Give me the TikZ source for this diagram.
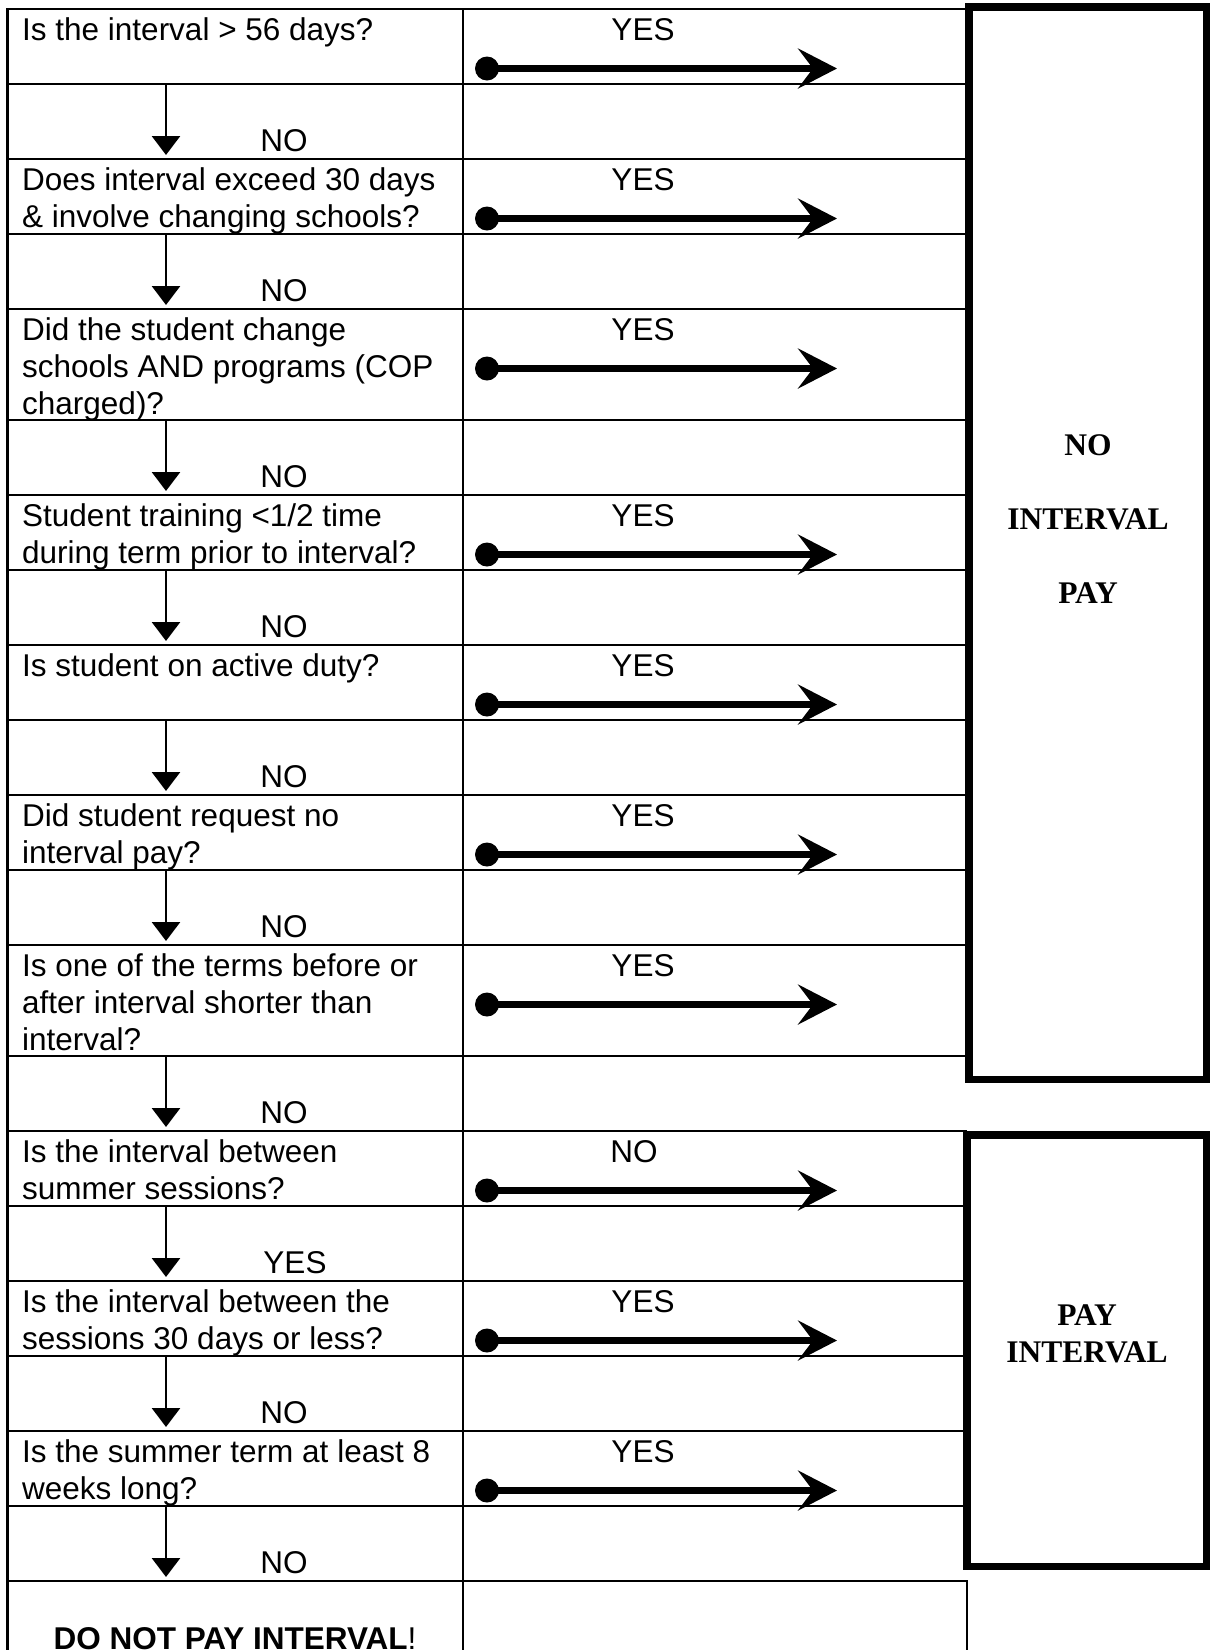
\documentclass[tikz,border=0pt]{standalone}
\usepackage{fontspec}
\setmainfont{Liberation Sans}
\newfontfamily\serifbold{Liberation Serif}
\usetikzlibrary{arrows.meta}
\tikzstyle{rules} = [line width=2.3pt]
\tikzstyle{question} = [anchor=north west, inner sep=0pt, align=left]
\tikzstyle{answer} = [anchor=base, inner sep=0pt]
\tikzstyle{startdot} = [circle, fill, inner sep=0pt, minimum size=24pt]
\tikzstyle{yesline} = [draw, line width=7pt, -{Stealth[length=39pt,width=40pt,inset=15pt]}]
\tikzstyle{noline} = [draw, line width=2.8pt, -{Triangle[length=19pt,width=28pt]}]
\tikzstyle{outcome} = [draw, line width=7.5pt]
\tikzstyle{verdict} = [anchor=north, inner sep=0pt, align=center, font=\serifbold\bfseries\fontsize{31.5}{37}\selectfont]

\begin{document}
\begin{tikzpicture}[x=1pt, y=-1pt, font=\fontsize{31.5}{37}\selectfont]
	\useasboundingbox (0,0) rectangle (1210,1650);
	
	% Table rules
	\draw[rules] (7.5,1650) -- (7.5,9) -- (967,9);
	\draw[rules] (463,9) -- (463,1650);
	\draw[rules] (7.5,84) -- (967,84) (7.5,159) -- (967,159) (7.5,234) -- (967,234)
		(7.5,309) -- (967,309) (7.5,420) -- (967,420) (7.5,495) -- (967,495)
		(7.5,570) -- (967,570) (7.5,645) -- (967,645) (7.5,720) -- (967,720)
		(7.5,795) -- (967,795) (7.5,870) -- (967,870) (7.5,945) -- (967,945)
		(7.5,1056) -- (967,1056) (7.5,1131) -- (967,1131) (7.5,1206) -- (967,1206)
		(7.5,1281) -- (967,1281) (7.5,1356) -- (967,1356) (7.5,1431) -- (967,1431)
		(7.5,1506) -- (967,1506);
	\draw[rules] (7.5,1581) -- (967,1581) -- (967,1650);
	
	% Outcome boxes
	\draw[outcome] (968.75,6.75) rectangle (1206.25,1079.25);
	\draw[outcome] (966.75,1134.75) rectangle (1206.25,1566.25);
	\node[verdict] (nopay) at (1088,434) {NO\\[37pt]INTERVAL\\[37pt]PAY};
	\node[verdict] (pay) at (1087,1304) {PAY\\INTERVAL};
	
	% Place questions
	\node[question] (q1) at (22,17.8) {Is the interval > 56 days?};
	\node[question] (q2) at (22,167.8) {Does interval exceed 30 days\\\& involve changing schools?};
	\node[question] (q3) at (22,317.8) {Did the student change\\schools AND programs (COP\\charged)?};
	\node[question] (q4) at (22,503.8) {Student training <1/2 time\\during term prior to interval?};
	\node[question] (q5) at (22,653.8) {Is student on active duty?};
	\node[question] (q6) at (22,803.8) {Did student request no\\interval pay?};
	\node[question] (q7) at (22,953.8) {Is one of the terms before or\\after interval shorter than\\interval?};
	\node[question] (q8) at (22,1139.8) {Is the interval between\\summer sessions?};
	\node[question] (q9) at (22,1289.8) {Is the interval between the\\sessions 30 days or less?};
	\node[question] (q10) at (22,1439.8) {Is the summer term at least 8\\weeks long?};
	\node[answer] (stop) at (235,1649) {\textbf{DO NOT PAY INTERVAL}!};
	
	% Answers to the right
	\node[answer] (yes1) at (643,40.5) {YES};
	\node[answer] (yes2) at (643,190.5) {YES};
	\node[answer] (yes3) at (643,340.5) {YES};
	\node[answer] (yes4) at (643,526.5) {YES};
	\node[answer] (yes5) at (643,676.5) {YES};
	\node[answer] (yes6) at (643,826.5) {YES};
	\node[answer] (yes7) at (643,976.5) {YES};
	\node[answer] (yes8) at (634,1162.5) {NO};
	\node[answer] (yes9) at (643,1312.5) {YES};
	\node[answer] (yes10) at (643,1462.5) {YES};
	
	% Answers downwards
	\node[answer] (no1) at (284,151.5) {NO};
	\node[answer] (no2) at (284,301.5) {NO};
	\node[answer] (no3) at (284,487.5) {NO};
	\node[answer] (no4) at (284,637.5) {NO};
	\node[answer] (no5) at (284,787.5) {NO};
	\node[answer] (no6) at (284,937.5) {NO};
	\node[answer] (no7) at (284,1123.5) {NO};
	\node[answer] (no8) at (295,1273.5) {YES};
	\node[answer] (no9) at (284,1423.5) {NO};
	\node[answer] (no10) at (284,1573.5) {NO};
	
	% Arrow ends
	\node[startdot] (s1) at (487,68.5) {};  \coordinate (t1) at (837,68.5);
	\node[startdot] (s2) at (487,218.5) {}; \coordinate (t2) at (837,218.5);
	\node[startdot] (s3) at (487,368.5) {}; \coordinate (t3) at (837,368.5);
	\node[startdot] (s4) at (487,554.5) {}; \coordinate (t4) at (837,554.5);
	\node[startdot] (s5) at (487,704.5) {}; \coordinate (t5) at (837,704.5);
	\node[startdot] (s6) at (487,854.5) {}; \coordinate (t6) at (837,854.5);
	\node[startdot] (s7) at (487,1004.5) {}; \coordinate (t7) at (837,1004.5);
	\node[startdot] (s8) at (487,1190.5) {}; \coordinate (t8) at (837,1190.5);
	\node[startdot] (s9) at (487,1340.5) {}; \coordinate (t9) at (837,1340.5);
	\node[startdot] (s10) at (487,1490.5) {}; \coordinate (t10) at (837,1490.5);
	\coordinate (v1a) at (166,84);   \coordinate (v1b) at (166,155);
	\coordinate (v2a) at (166,234);  \coordinate (v2b) at (166,305);
	\coordinate (v3a) at (166,420);  \coordinate (v3b) at (166,491);
	\coordinate (v4a) at (166,570);  \coordinate (v4b) at (166,641);
	\coordinate (v5a) at (166,720);  \coordinate (v5b) at (166,791);
	\coordinate (v6a) at (166,870);  \coordinate (v6b) at (166,941);
	\coordinate (v7a) at (166,1056); \coordinate (v7b) at (166,1127);
	\coordinate (v8a) at (166,1206); \coordinate (v8b) at (166,1277);
	\coordinate (v9a) at (166,1356); \coordinate (v9b) at (166,1427);
	\coordinate (v10a) at (166,1506); \coordinate (v10b) at (166,1577);
	
	% Draw edges
	\path[yesline] (s1.center) -- (t1);
	\path[yesline] (s2.center) -- (t2);
	\path[yesline] (s3.center) -- (t3);
	\path[yesline] (s4.center) -- (t4);
	\path[yesline] (s5.center) -- (t5);
	\path[yesline] (s6.center) -- (t6);
	\path[yesline] (s7.center) -- (t7);
	\path[yesline] (s8.center) -- (t8);
	\path[yesline] (s9.center) -- (t9);
	\path[yesline] (s10.center) -- (t10);
	\path[noline] (v1a) -- (v1b);
	\path[noline] (v2a) -- (v2b);
	\path[noline] (v3a) -- (v3b);
	\path[noline] (v4a) -- (v4b);
	\path[noline] (v5a) -- (v5b);
	\path[noline] (v6a) -- (v6b);
	\path[noline] (v7a) -- (v7b);
	\path[noline] (v8a) -- (v8b);
	\path[noline] (v9a) -- (v9b);
	\path[noline] (v10a) -- (v10b);
	
\end{tikzpicture}
\end{document}
